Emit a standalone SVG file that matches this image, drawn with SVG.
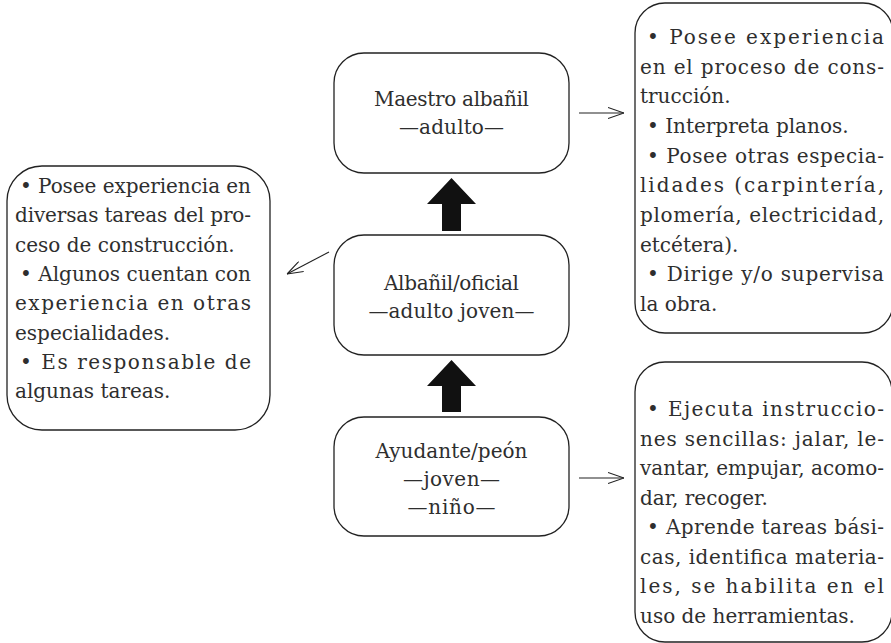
<svg xmlns="http://www.w3.org/2000/svg" width="891" height="643" viewBox="0 0 891 643">
<defs>
<style>
.box{fill:#fff;stroke:#222;stroke-width:1.3}
.t{font-family:"DejaVu Serif","Liberation Serif",serif;font-size:20px;fill:#2e2e2e}
.c{text-anchor:middle}
.thin{stroke:#222;stroke-width:1.1;fill:none}
.thick{fill:#111}
</style>
<marker id="open" viewBox="0 0 16 12" refX="16" refY="6" markerWidth="16" markerHeight="12" markerUnits="userSpaceOnUse" orient="auto">
<path d="M0,0.5 L16,6 L0,11.5" fill="none" stroke="#222" stroke-width="1.1"/>
</marker>
</defs>
<rect width="891" height="643" fill="#fff"/>

<g id="maestro">
<rect class="box" x="334" y="53" width="235" height="120" rx="30"/>
<text class="t c" x="451.5" y="106" textLength="155" lengthAdjust="spacing">Maestro albañil</text>
<text class="t c" x="451.5" y="134" textLength="105" lengthAdjust="spacing">—adulto—</text>
</g>

<g id="albanil">
<rect class="box" x="334" y="235" width="235" height="120" rx="30"/>
<text class="t c" x="451.5" y="290" textLength="135" lengthAdjust="spacing">Albañil/oficial</text>
<text class="t c" x="451.5" y="318" textLength="166" lengthAdjust="spacing">—adulto joven—</text>
</g>

<g id="ayudante">
<rect class="box" x="334" y="417" width="235" height="119" rx="30"/>
<text class="t c" x="451.5" y="458" textLength="152" lengthAdjust="spacing">Ayudante/peón</text>
<text class="t c" x="451.5" y="486" textLength="97" lengthAdjust="spacing">—joven—</text>
<text class="t c" x="451.5" y="514" textLength="88" lengthAdjust="spacing">—niño—</text>
</g>

<g id="left-notes">
<rect class="box" x="7" y="166" width="263" height="264" rx="35"/>
<text class="t" x="20" y="193" textLength="231" lengthAdjust="spacing">• Posee experiencia en</text>
<text class="t" x="15" y="222.3" textLength="236" lengthAdjust="spacing">diversas tareas del pro-</text>
<text class="t" x="15" y="251.6">ceso de construcción.</text>
<text class="t" x="20" y="280.9" textLength="231" lengthAdjust="spacing">• Algunos cuentan con</text>
<text class="t" x="15" y="310.2" textLength="236" lengthAdjust="spacing">experiencia en otras</text>
<text class="t" x="15" y="339.5">especialidades.</text>
<text class="t" x="20" y="368.8" textLength="231" lengthAdjust="spacing">• Es responsable de</text>
<text class="t" x="15" y="398.1">algunas tareas.</text>
</g>

<g id="top-right-notes">
<rect class="box" x="635" y="3" width="258" height="330" rx="30"/>
<text class="t" x="647" y="44" textLength="237" lengthAdjust="spacing">• Posee experiencia</text>
<text class="t" x="640" y="73.7" textLength="244" lengthAdjust="spacing">en el proceso de cons-</text>
<text class="t" x="640" y="103.3">trucción.</text>
<text class="t" x="647" y="133">• Interpreta planos.</text>
<text class="t" x="647" y="162.6" textLength="237" lengthAdjust="spacing">• Posee otras especia-</text>
<text class="t" x="640" y="192.3" textLength="244" lengthAdjust="spacing">lidades (carpintería,</text>
<text class="t" x="640" y="221.9" textLength="244" lengthAdjust="spacing">plomería, electricidad,</text>
<text class="t" x="640" y="251.6">etcétera).</text>
<text class="t" x="647" y="281.2" textLength="237" lengthAdjust="spacing">• Dirige y/o supervisa</text>
<text class="t" x="640" y="310.9">la obra.</text>
</g>

<g id="bottom-right-notes">
<rect class="box" x="635" y="362" width="257" height="280" rx="30"/>
<text class="t" x="647" y="416" textLength="237" lengthAdjust="spacing">• Ejecuta instruccio-</text>
<text class="t" x="640" y="445.5" textLength="244" lengthAdjust="spacing">nes sencillas: jalar, le-</text>
<text class="t" x="640" y="475" textLength="244" lengthAdjust="spacing">vantar, empujar, acomo-</text>
<text class="t" x="640" y="504.5">dar, recoger.</text>
<text class="t" x="647" y="534" textLength="237" lengthAdjust="spacing">• Aprende tareas bási-</text>
<text class="t" x="640" y="563.5" textLength="244" lengthAdjust="spacing">cas, identifica materia-</text>
<text class="t" x="640" y="593" textLength="244" lengthAdjust="spacing">les, se habilita en el</text>
<text class="t" x="640" y="622.5">uso de herramientas.</text>
</g>

<g id="connectors">
<polygon class="thick" points="451.5,178 476,204 461,204 461,231 442,231 442,204 427,204"/>
<polygon class="thick" points="451.5,360 476,386 461,386 461,412 442,412 442,386 427,386"/>
<line class="thin" x1="329" y1="252" x2="287" y2="274" marker-end="url(#open)"/>
<line class="thin" x1="579" y1="113" x2="624" y2="113" marker-end="url(#open)"/>
<line class="thin" x1="579" y1="478" x2="624" y2="478" marker-end="url(#open)"/>
</g>
</svg>
